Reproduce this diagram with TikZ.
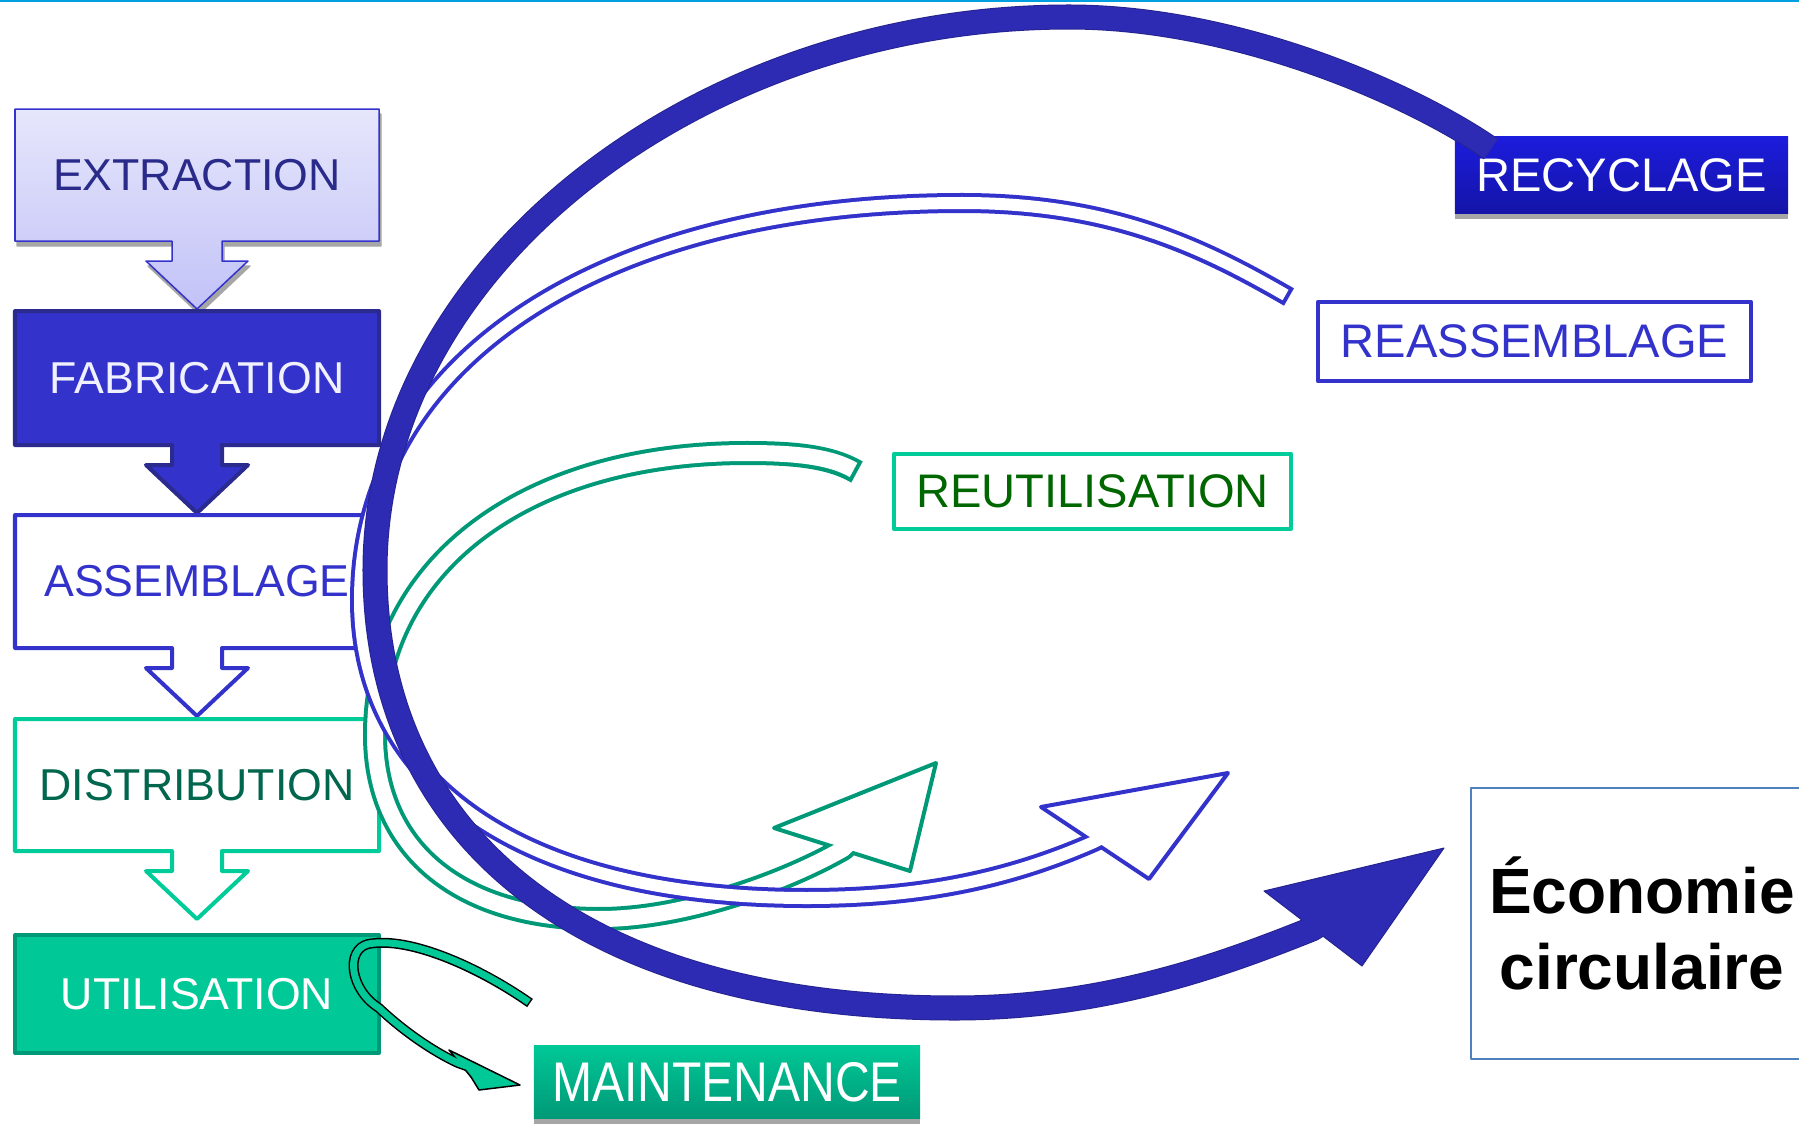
\documentclass[tikz,border=0pt]{standalone}
\usepackage{fontspec}
\setmainfont{Liberation Sans}
\usetikzlibrary{calc}

\definecolor{topline}{HTML}{00A0E0}
\definecolor{lavtop}{HTML}{E6E6FC}
\definecolor{lavbot}{HTML}{C2C2F8}
\definecolor{navytext}{HTML}{2A2A8A}
\definecolor{midblue}{HTML}{3333CC}
\definecolor{deepblue}{HTML}{2A2A8F}
\definecolor{loopblue}{HTML}{2D2BB3}
\definecolor{loopedge}{HTML}{25238F}
\definecolor{mint}{HTML}{00CC99}
\definecolor{mintfill}{HTML}{00C896}
\definecolor{mintdeep}{HTML}{009977}
\definecolor{pinetext}{HTML}{00664D}
\definecolor{leaf}{HTML}{006600}
\definecolor{recytop}{HTML}{1C1CDC}
\definecolor{recybot}{HTML}{1414A8}
\definecolor{ecoedge}{HTML}{4F81BD}
\definecolor{shadowgray}{HTML}{A6A6A6}

% step box with its down arrow, #2 = top, #3 = bottom of the box
\newcommand{\downbox}[3][]{%
  \draw[#1] (15,#2) -- (379,#2) -- (379,#3) -- (222,#3) -- (222,{#3+20})
    -- (248,{#3+20}) -- (197,{#3+68}) -- (146,{#3+20}) -- (172,{#3+20})
    -- (172,#3) -- (15,#3) -- cycle;}

\tikzset{
  steplabel/.style={inner sep=0pt, font=\fontsize{12.7pt}{15pt}\selectfont},
  sidebox/.style={line width=0.04cm, inner sep=0pt, font=\fontsize{13.4pt}{16pt}\selectfont},
  hollowhead/.style={fill=white, line width=0.04cm},
}

\begin{document}
\begin{tikzpicture}[x=0.01cm, y=-0.01cm, line join=round]
  \useasboundingbox (0,0) rectangle (1799,1124);
  \clip (0,0) rectangle (1799,1124);
  \draw[topline, line width=0.025cm] (0,1) -- (1799,1);

  % the chain of steps
  \downbox[shadowgray, fill=shadowgray, shift={(2,5)}]{109}{241}
  \downbox[draw=midblue, line width=0.015cm, top color=lavtop, bottom color=lavbot]{109}{241}
  \downbox[draw=deepblue, fill=midblue, line width=0.04cm]{311}{445}
  \downbox[draw=midblue, fill=white, line width=0.04cm]{515}{648}
  \downbox[draw=mint, fill=white, line width=0.04cm]{719}{851}
  \draw[draw=mintdeep, fill=mintfill, line width=0.04cm] (15,935) rectangle (379,1053);

  \node[steplabel, text=navytext] (extraction) at (197,175) {EXTRACTION};
  \node[steplabel, text=white!94!blue] (fabrication) at (197,378) {FABRICATION};
  \node[steplabel, text=midblue] (assemblage) at (197,581.5) {ASSEMBLAGE};
  \node[steplabel, text=pinetext] (distribution) at (197,785) {DISTRIBUTION};
  \node[steplabel, text=white] (utilisation) at (197,994) {UTILISATION};

  % loop targets
  \fill[shadowgray] (1455,141) rectangle (1788,219);
  \node[sidebox, top color=recytop, bottom color=recybot, text=white,
        minimum width=3.33cm, minimum height=0.76cm] (recyclage) at (1621.5,175) {RECYCLAGE};
  \node[sidebox, draw=midblue, fill=white, text=midblue,
        minimum width=4.33cm, minimum height=0.79cm] (reassemblage) at (1534.5,341.5) {REASSEMBLAGE};
  \node[sidebox, draw=mint, text=leaf,
        minimum width=3.97cm, minimum height=0.75cm] (reutilisation) at (1092.5,491.5) {REUTILISATION};
  \fill[shadowgray] (534,1050) rectangle (920,1124);
  \node[sidebox, top color=mintfill, bottom color=mintdeep, text=white,
        minimum width=3.86cm, minimum height=0.72cm,
        font=\fontsize{15.9pt}{18pt}\selectfont] (maintenance) at (727,1082) {\scalebox{0.86}[1]{MAINTENANCE}};
  \node[draw=ecoedge, line width=0.015cm, minimum width=3.42cm, minimum height=2.71cm,
        align=center, font=\bfseries\fontsize{18.2pt}{21.5pt}\selectfont] (economie) at (1642,923.5) {Économie\\circulaire};

  % reutilisation loop
  \coordinate (ruTail) at (857,472);
  \coordinate (ruNeck) at (843,849);
  \coordinate (ruTip) at (936,763);
  \coordinate (ruBarbA) at (774,828);
  \coordinate (ruBarbB) at (910,871);
  \def\ruPath{(ruTail) .. controls (831,457) and (797,453) .. (747,453)
      .. controls (524,453) and (375,566) .. (375,735)
      .. controls (375,845) and (454,919) .. (600,919)
      .. controls (680,919) and (780,885) .. (ruNeck) -- ($(ruNeck)!0.12!(ruTip)$)}
  \draw[mintdeep, line width=0.24cm] \ruPath;
  \draw[hollowhead, draw=mintdeep] (ruBarbA) -- (ruTip) -- (ruBarbB) -- cycle;
  \draw[white, line width=0.16cm, shorten <=0.04cm] \ruPath;

  % reassemblage loop
  \coordinate (raTail) at (1289,297);
  \coordinate (raNeck) at (1094,842);
  \coordinate (raTip) at (1228,773);
  \coordinate (raBarbA) at (1041,807);
  \coordinate (raBarbB) at (1149,879);
  \def\raPath{(raTail) .. controls (1202,247) and (1112,203) .. (962,203)
      .. controls (601,203) and (360,362) .. (360,600)
      .. controls (360,779) and (516,898) .. (807,898)
      .. controls (927,898) and (1014,877) .. (raNeck) -- ($(raNeck)!0.1!(raTip)$)}
  \draw[midblue, line width=0.2cm] \raPath;
  \draw[hollowhead, draw=midblue] (raBarbA) -- (raTip) -- (raBarbB) -- cycle;
  \draw[white, line width=0.12cm, shorten <=0.04cm] \raPath;

  % recyclage loop
  \coordinate (rcTail) at (1491,149);
  \coordinate (rcNeck) at (1312,929);
  \coordinate (rcTip) at (1444,848);
  \coordinate (rcBarbA) at (1264,891);
  \coordinate (rcBarbB) at (1362,966);
  \def\rcPath{(rcTail) .. controls (1415,96) and (1239,17) .. (1069,17)
      .. controls (700,17) and (375,265) .. (375,570)
      .. controls (375,833) and (578,1008) .. (955,1008)
      .. controls (1105,1008) and (1222,965) .. (rcNeck) -- ($(rcNeck)!0.1!(rcTip)$)}
  \draw[loopedge, line width=0.25cm] \rcPath;
  \filldraw[fill=loopblue, draw=loopedge, line width=0.01cm] (rcBarbA) -- (rcTip) -- (rcBarbB) -- cycle;
  \draw[loopblue, line width=0.23cm] \rcPath;

  % maintenance hook
  \coordinate (mtTail) at (530,1003);
  \coordinate (mtNeck) at (458,1063);
  \coordinate (mtTip) at (520,1085);
  \def\mtPath{(mtTail) .. controls (480,968) and (410,936) .. (368,944)
      .. controls (345,950) and (350,990) .. (379,1008)
      .. controls (400,1028) and (430,1050) .. (mtNeck) -- ($(mtNeck)!0.15!(mtTip)$)}
  \draw[black, line width=0.1cm] \mtPath;
  \filldraw[fill=mintfill, draw=black, line width=0.015cm] (449,1050) -- (mtTip) -- (479,1090) -- (471,1077) -- cycle;
  \draw[mintfill, line width=0.07cm, shorten <=0.015cm] \mtPath;
\end{tikzpicture}
\end{document}
